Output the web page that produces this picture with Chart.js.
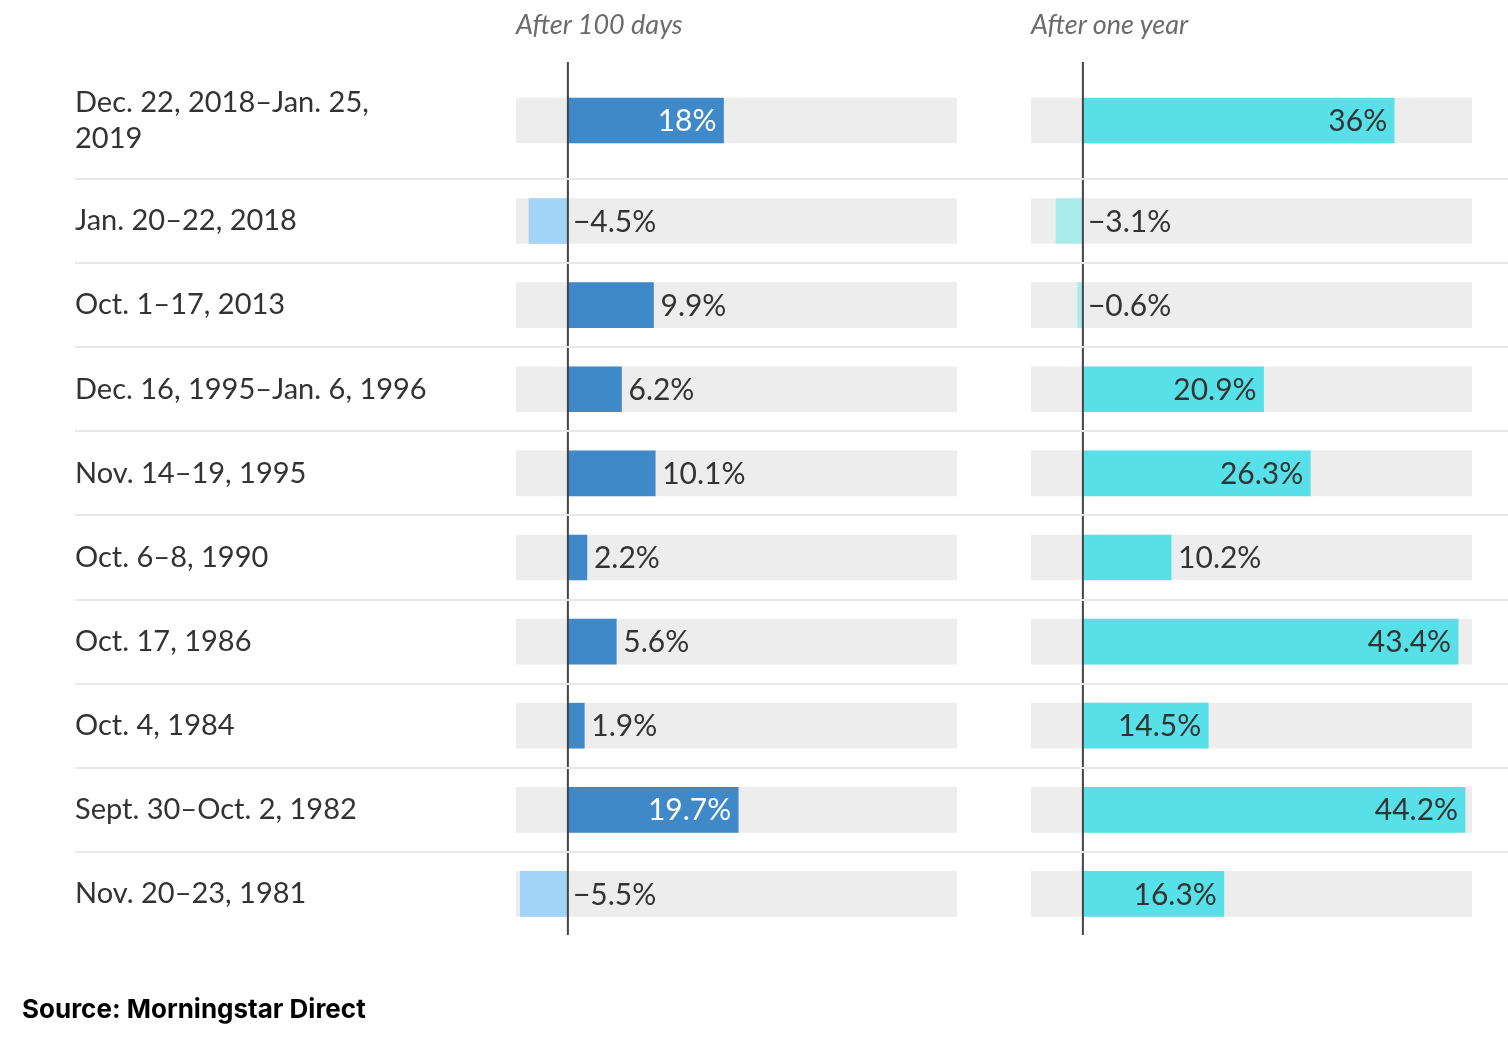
<!DOCTYPE html>
<html>
<head>
<meta charset="utf-8">
<script src="https://cdn.jsdelivr.net/npm/chart.js@4.4.1/dist/chart.umd.min.js"></script>
<style>
  body { margin: 0; background: #fff; }
  #wrap { position: relative; width: 1508px; height: 1042px; overflow: hidden; }
  #wrap canvas { position: absolute; left: 0; top: 0; }
  .head { position: absolute; top: 7px; font: italic 27px Lato, sans-serif; color: #6b6b6b; }
  #source { position: absolute; left: 22px; top: 993px; font: 700 26px Inter, "Liberation Sans", sans-serif; color: #000; }
</style>
</head>
<body>
<div id="wrap">
  <canvas id="days" width="1508" height="1042"></canvas>
  <canvas id="year" width="1508" height="1042"></canvas>
  <div class="head" style="left:516px">After 100 days</div>
  <div class="head" style="left:1031px">After one year</div>
  <div id="source">Source: Morningstar Direct</div>
</div>
<script>
'use strict'
// shutdown periods
const periods = [
    ['Dec. 22, 2018–Jan. 25,', '2019'],
    'Jan. 20–22, 2018',
    'Oct. 1–17, 2013',
    'Dec. 16, 1995–Jan. 6, 1996',
    'Nov. 14–19, 1995',
    'Oct. 6–8, 1990',
    'Oct. 17, 1986',
    'Oct. 4, 1984',
    'Sept. 30–Oct. 2, 1982',
    'Nov. 20–23, 1981'
];
const after100 = [18, -4.5, 9.9, 6.2, 10.1, 2.2, 5.6, 1.9, 19.7, -5.5];
const afterYear = [36, -3.1, -0.6, 20.9, 26.3, 10.2, 43.4, 14.5, 44.2, 16.3];
const axisMin = -6;
const axisMax = 45;
const insideFrom = 12; // labels go inside the bar from this value

// rows with a wrapped label get taller
const extraPerLine = 0.39;
const spans = periods.map(p => 1 + (Array.isArray(p) ? p.length - 1 : 0) * extraPerLine);
const edges = [0];
spans.forEach(s => edges.push(edges[edges.length - 1] + s));
const centers = spans.map((s, i) => edges[i] + s / 2);
const total = edges[edges.length - 1];

const TOP = 62, BOTTOM = 1042 - 936;

function fmt(v) {
    return String(v).replace('-', '\u2212') + '%';
}

const panelPlugin = {
    id: 'panel',
    afterDatasetsDraw(chart, args, opts) {
        const ctx = chart.ctx;
        const x = chart.scales.x;
        const y = chart.scales.y;
        const zero = x.getPixelForValue(0);
        const vals = opts.values;
        ctx.save();
        // labels
        ctx.font = '30px Lato, sans-serif';
        ctx.textBaseline = 'middle';
        chart.getDatasetMeta(0).data.forEach((bar, i) => {
            const v = vals[i];
            if (v < 0) {
                ctx.fillStyle = '#333';
                ctx.textAlign = 'left';
                ctx.fillText(fmt(v), zero + 5, bar.y + 1);
            } else if (v >= insideFrom) {
                ctx.fillStyle = opts.insideColor;
                ctx.textAlign = 'right';
                ctx.fillText(fmt(v), bar.x - 7, bar.y + 1);
            } else {
                ctx.fillStyle = '#333';
                ctx.textAlign = 'left';
                ctx.fillText(fmt(v), bar.x + 7, bar.y + 1);
            }
        });
        // zero line
        ctx.strokeStyle = '#444';
        ctx.lineWidth = 2;
        ctx.beginPath();
        ctx.moveTo(zero, chart.chartArea.top);
        ctx.lineTo(zero, chart.chartArea.bottom - 1);
        ctx.stroke();
        // row separators
        ctx.strokeStyle = '#e8e8e8';
        ctx.lineWidth = 2;
        for (let i = 1; i < edges.length - 1; i++) {
            const yy = Math.round(y.getPixelForValue(edges[i]));
            ctx.beginPath();
            ctx.moveTo(75, yy);
            ctx.lineTo(1508, yy);
            ctx.stroke();
        }
        ctx.restore();
    }
};

function panelOptions(values, pos, neg, insideColor, showLabels, padLeft, padRight) {
    return {
        type: 'bar',
        data: {
            datasets: [{
                data: values.map((v, i) => ({ x: v, y: centers[i] })),
                backgroundColor: (c) => values[c.dataIndex] < 0 ? neg : pos,
                barThickness: 45,
                grouped: false,
                order: 0
            }, {
                data: values.map((v, i) => ({ x: [axisMin, axisMax], y: centers[i] })),
                backgroundColor: '#ededed',
                barThickness: 45,
                grouped: false,
                order: 1
            }]
        },
        options: {
            indexAxis: 'y',
            responsive: false,
            animation: false,
            events: [],
            layout: { padding: { left: padLeft, right: padRight, top: TOP, bottom: BOTTOM } },
            plugins: {
                legend: { display: false },
                tooltip: { enabled: false },
                panel: { insideColor: insideColor, values: values }
            },
            scales: {
                x: { type: 'linear', display: false, min: axisMin, max: axisMax },
                y: {
                    type: 'linear',
                    reverse: true,
                    offset: false,
                    min: 0,
                    max: total,
                    display: showLabels,
                    grid: { display: false },
                    border: { display: false },
                    afterBuildTicks(scale) { scale.ticks = centers.map(c => ({ value: c })); },
                    ticks: {
                        autoSkip: false,
                        crossAlign: 'far',
                        padding: 0,
                        color: '#333',
                        font: { family: 'Lato, sans-serif', size: 29, lineHeight: 1.25 },
                        callback: (v, i) => periods[i]
                    },
                    afterFit(scale) { if (showLabels) scale.width = 441; }
                }
            }
        },
        plugins: [panelPlugin]
    };
}

const daysChart = new Chart(document.getElementById('days'),
    panelOptions(after100, '#4089c9', '#a2d4f8', '#fff', true, 75, 1508 - 957));
const yearChart = new Chart(document.getElementById('year'),
    panelOptions(afterYear, '#58e0e8', '#a8ecea', '#333', false, 1031, 1508 - 1472));
</script>
</body>
</html>
